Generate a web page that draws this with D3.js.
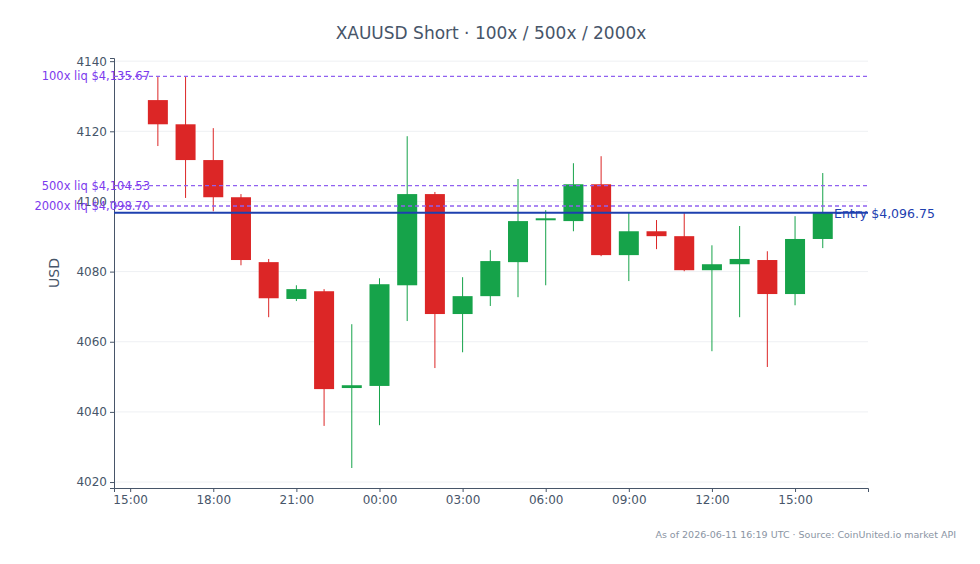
<!DOCTYPE html>
<html><head><meta charset="utf-8">
<script src="https://cdn.jsdelivr.net/npm/d3@7"></script>
<style>body{margin:0;background:#fff;font-family:"DejaVu Sans",sans-serif}</style>
</head><body><svg id="c" width="980" height="564" font-family="DejaVu Sans"></svg>
<script>
// hourly candles, 2026-06-10 16:00 UTC .. 2026-06-11 16:00 UTC
var opens  = [4128.9,4122.0,4111.8,4101.2,4082.7,4072.2,4074.4,4046.8,4047.4,4076.1,4102.1,4067.9,4073.0,4082.7,4094.7,4094.4,4104.9,4084.7,4091.5,4090.1,4080.4,4082.1,4083.3,4073.6,4089.3];
var closes = [4122.0,4111.8,4101.2,4083.3,4072.4,4075.0,4046.5,4047.6,4076.4,4102.1,4067.9,4073.0,4083.0,4094.4,4095.2,4104.9,4084.7,4091.5,4090.1,4080.4,4082.1,4083.6,4073.6,4089.3,4096.7];
var highs  = [4135.7,4135.7,4120.9,4102.1,4083.6,4076.1,4075.0,4065.0,4078.1,4118.6,4102.7,4078.4,4086.1,4106.4,4097.5,4110.9,4112.9,4096.7,4094.7,4096.7,4087.5,4093.0,4085.8,4095.8,4108.1];
var lows   = [4115.8,4101.0,4097.2,4081.8,4067.0,4071.6,4036.0,4024.0,4036.2,4065.9,4052.5,4057.0,4070.2,4072.7,4076.1,4091.5,4084.4,4077.3,4086.4,4080.1,4057.3,4067.0,4052.8,4070.4,4086.7];
var entry = 4096.75;
var liqLevels = [{lev:"100x", p:4135.67},{lev:"500x", p:4104.53},{lev:"2000x", p:4098.70}];
var yTicks = [4020,4040,4060,4080,4100,4120,4140];

var t0 = Date.UTC(2026,5,10,16);
var candles = opens.map(function(o,i){return {t:new Date(t0+i*3600e3),o:o,c:closes[i],h:highs[i],l:lows[i]};});

var svg = d3.select("#c");
var L=114,R=868,T=58,B=488;
var x = d3.scaleUtc().domain([new Date(t0-95*60e3), new Date(t0+24*3600e3+98*60e3)]).range([L,R]);
var y = d3.scaleLinear().domain([4018.3,4140.9]).range([B,T]);
var fmt = d3.format(",.2f");

svg.append("text").attr("x",491).attr("y",39).attr("text-anchor","middle")
  .attr("font-size",17).attr("fill","#475569").text("XAUUSD Short · 100x / 500x / 2000x");

svg.append("g").selectAll("line").data(yTicks).join("line")
  .attr("x1",L).attr("x2",R).attr("y1",function(d){return y(d);}).attr("y2",function(d){return y(d);})
  .attr("stroke","#eef0f3");

var ya = svg.append("g").attr("transform","translate("+L+",0)")
  .call(d3.axisLeft(y).tickValues(yTicks).tickFormat(d3.format("d")).tickSize(4));
var xa = svg.append("g").attr("transform","translate(0,"+B+")")
  .call(d3.axisBottom(x).ticks(d3.utcHour.every(3)).tickFormat(d3.utcFormat("%H:%M")).tickSize(4));
[ya,xa].forEach(function(a){
  a.selectAll("path,line").attr("stroke","#475569");
  a.selectAll("text").attr("fill","#475569").attr("font-size",12).attr("font-family","DejaVu Sans");
});

svg.append("text").attr("transform","translate(59,273) rotate(-90)").attr("text-anchor","middle")
  .attr("font-size",14).attr("fill","#475569").text("USD");

var g = svg.append("g");
g.selectAll("line.w").data(candles).join("line")
  .attr("x1",function(d){return x(d.t);}).attr("x2",function(d){return x(d.t);})
  .attr("y1",function(d){return y(d.h);}).attr("y2",function(d){return y(d.l);})
  .attr("stroke",function(d){return d.c>=d.o?"#16a34a":"#dc2626";});
g.selectAll("rect").data(candles).join("rect")
  .attr("x",function(d){return x(d.t)-10;}).attr("width",20)
  .attr("y",function(d){return y(Math.max(d.o,d.c));})
  .attr("height",function(d){return Math.max(2,Math.abs(y(d.o)-y(d.c)));})
  .attr("fill",function(d){return d.c>=d.o?"#16a34a":"#dc2626";});

svg.append("g").selectAll("line").data(liqLevels).join("line")
  .attr("x1",L).attr("x2",R).attr("y1",function(d){return y(d.p);}).attr("y2",function(d){return y(d.p);})
  .attr("stroke","#9061f0").attr("stroke-width",1.3).attr("stroke-dasharray","4,3");
svg.append("g").selectAll("text").data(liqLevels).join("text")
  .attr("x",150).attr("y",function(d){return y(d.p)+4;}).attr("text-anchor","end")
  .attr("font-size",11.5).attr("fill","#7c3aed")
  .text(function(d){return d.lev+" liq $"+fmt(d.p);});

svg.append("line").attr("x1",L).attr("x2",R).attr("y1",y(entry)).attr("y2",y(entry))
  .attr("stroke","#1e40af").attr("stroke-width",2);
svg.append("text").attr("x",834).attr("y",y(entry)+5).attr("font-size",12.5).attr("fill","#1e40af")
  .text("Entry $"+fmt(entry));

svg.append("text").attr("x",956).attr("y",538).attr("text-anchor","end").attr("font-size",9.5)
  .attr("fill","#8a94a3").text("As of 2026-06-11 16:19 UTC · Source: CoinUnited.io market API");
</script></body></html>
